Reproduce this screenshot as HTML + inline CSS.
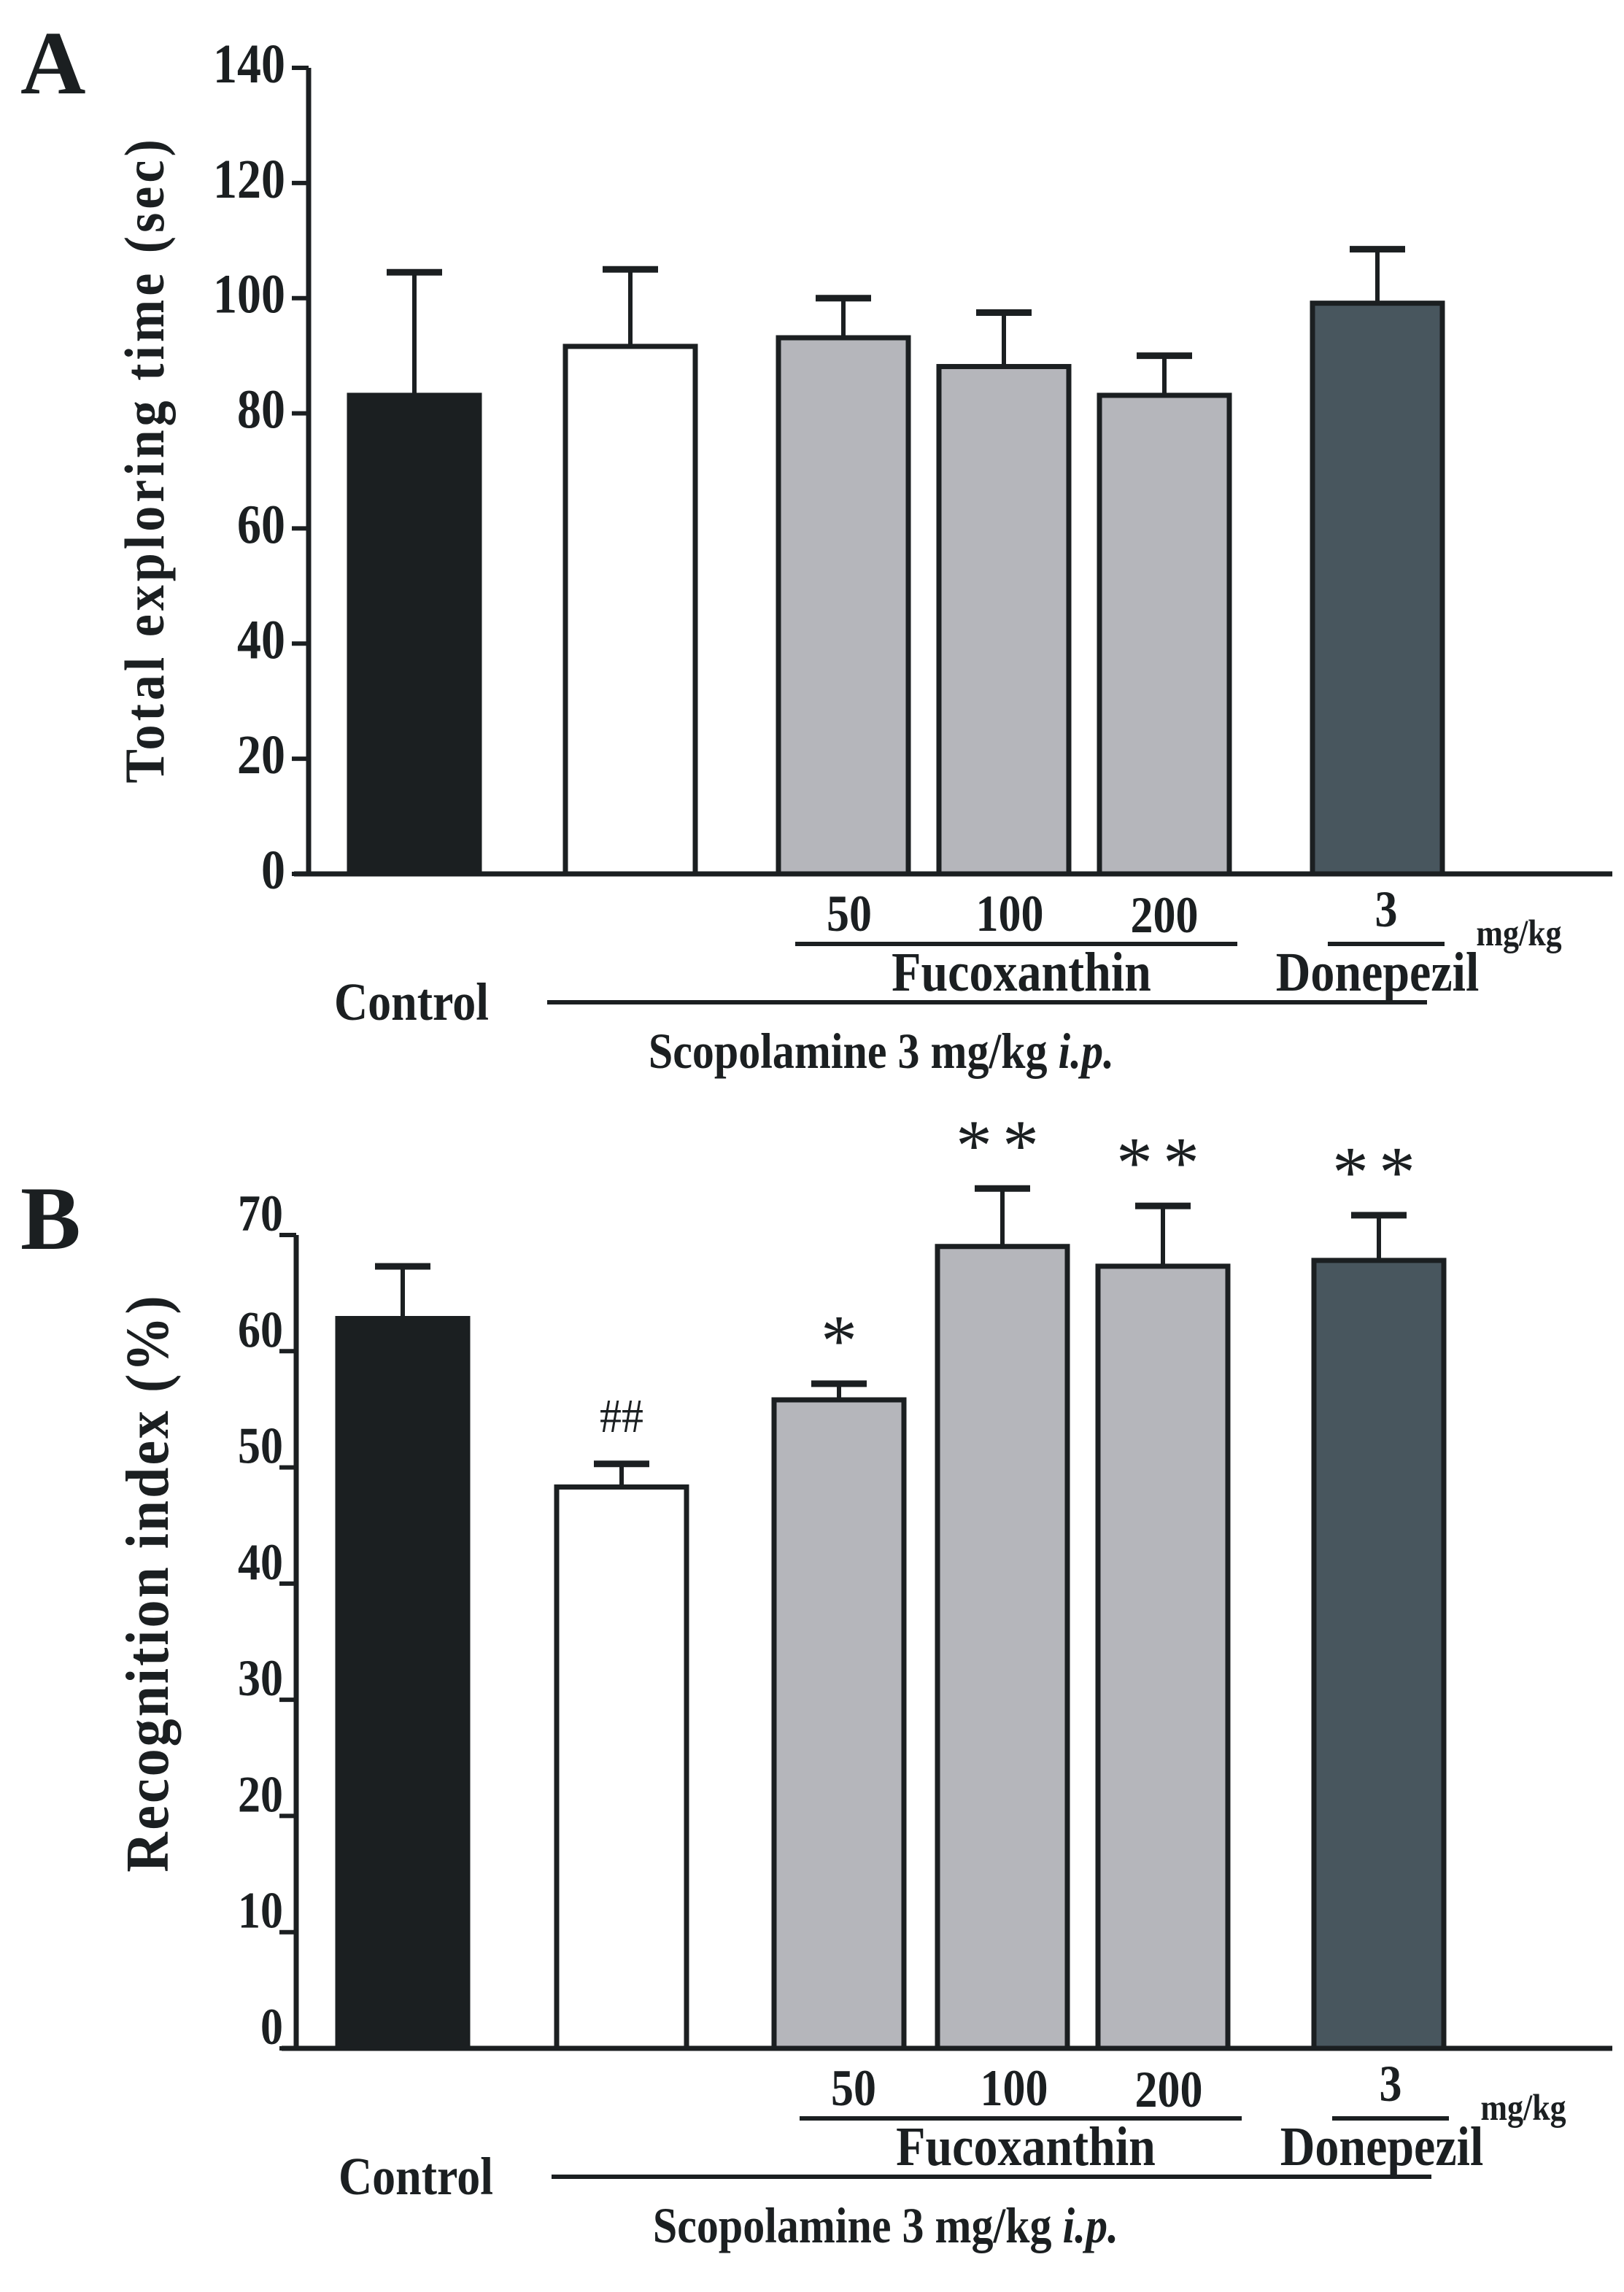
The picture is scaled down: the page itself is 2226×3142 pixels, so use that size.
<!DOCTYPE html>
<html><head><meta charset="utf-8"><style>
html,body{margin:0;padding:0;background:#fff;}
svg{display:block;}
text{font-family:"Liberation Serif",serif;font-weight:bold;fill:#1b1f21;}
</style></head><body>
<svg id="fig" width="2226" height="3142" viewBox="0 0 2226 3142"></svg>
<script>
const NS="http://www.w3.org/2000/svg";
const groups=["Control","Scopolamine","Fuco 50","Fuco 100","Fuco 200","Donepezil"];
const barColors=["#1b1f21","#ffffff","#b5b6bb","#b5b6bb","#b5b6bb","#48565e"];
const barLeftA=[476,772,1064,1284,1504,1796];
const barLeftB=[460,760,1058,1282,1502,1798];
const valuesA=[83.5,92,93.5,88.5,83.5,99.5];
const errA=[21,13,6.5,9,6.5,9];
const valuesB=[63,48.5,56,69.2,67.5,68];
const errB=[4.3,1.8,1.2,4.8,5,3.7];
const sigB=["","##","*","**","**","**"];
const ticksA=[0,20,40,60,80,100,120,140];
const ticksB=[0,10,20,30,40,50,60,70];
const svg=document.getElementById('fig');
function el(tag,attrs,parent,txt){const e=document.createElementNS(NS,tag);for(const k in attrs)e.setAttribute(k,attrs[k]);if(txt!==undefined)e.textContent=txt;(parent||svg).appendChild(e);return e;}
function txt(parent,x,y,s,size,anchor,sy,extra){
  const a={x:0,y:0,transform:`translate(${x},${y}) scale(1,${sy})`,'text-anchor':anchor,'font-size':size};
  if(extra)for(const k in extra)a[k]=extra[k];
  return el('text',a,parent,s);
}

function panel(cfg){
  const g=el('g',{});
  
  
  const y=v=>cfg.y0-(v-0)/cfg.vmax*(cfg.y0-cfg.yTop);
  cfg.values.forEach((v,i)=>{
    const x=cfg.left[i],w=184;
    const top=y(v+cfg.err[i]);
    const ln=el('line',{x1:x+w/2,x2:x+w/2,y1:top,y2:y(v),stroke:'#1b1f21','stroke-width':6},g);
    
    
    const cap=el('line',{x1:x+w/2-38,x2:x+w/2+38,y1:top,y2:top,stroke:'#1b1f21','stroke-width':9},g);
    
    
    const r=el('rect',{x:x+3,y:y(v)+3,width:w-6,height:cfg.y0-y(v)-3,fill:barColors[i],stroke:'#1b1f21','stroke-width':7},g);
    
    
    if(cfg.sig&&cfg.sig[i]){
      const isHash=cfg.sig[i]==='##';
      const t=txt(g,x+w/2,top-(isHash?44:26),cfg.sig[i],isHash?60:100,'middle',isHash?1.1:1,
        {style:'font-weight:normal;font-family:"Liberation Serif",serif','letter-spacing':cfg.sig[i]==='**'?14:0});
      
      
    }
  });
  const ya=el('line',{x1:cfg.ax,x2:cfg.ax,y1:cfg.yTop,y2:cfg.y0+3,stroke:'#1b1f21','stroke-width':7},g);
  
  
  const xa=el('line',{x1:cfg.ax-20,x2:2210,y1:cfg.y0,y2:cfg.y0,stroke:'#1b1f21','stroke-width':7},g);
  
  
  cfg.ticks.forEach(t=>{
    const tk=el('line',{x1:cfg.ax-23,x2:cfg.ax,y1:y(t),y2:y(t),stroke:'#1b1f21','stroke-width':6},g);
    
    
    const tl=txt(g,cfg.ax-cfg.lblOff,y(t)+cfg.lblDy,String(t),cfg.tickSize,'end',1.15);
    
    
  });
  const yt=el('text',{x:0,y:0,transform:`translate(${cfg.titleX},${cfg.titleY}) rotate(-90) scale(1,1.1)`,'text-anchor':'middle','font-size':cfg.titleSize,'letter-spacing':cfg.titleLS},g,cfg.title);
  
  
  const pl=txt(g,28,cfg.letterY,cfg.letter,124,'start',1);
  
  
  const o=cfg.y0; const dx=cfg.dx;
  const labs=[["50",1164+dx,o+78,62],["100",1384+dx,o+78,62],["200",1596+dx,o+80,62],["3",1900+dx,o+72,62],["mg/kg",2082+dx,o+98,44],
    ["Fucoxanthin",1400+dx,o+160,66],["Donepezil",1888+dx,o+160,66],["Control",564+dx,o+200,64]];
  labs.forEach(l=>{const t=txt(g,l[1],l[2],l[0],l[3],'middle',1.15);
    
    });
  const sc=el('text',{x:0,y:0,transform:`translate(${1208+dx},${o+266}) scale(1,1.15)`,'text-anchor':'middle','font-size':60},g);
  
  
  const s1=el('tspan',{},sc,'Scopolamine 3 mg/kg ');
  const s2=el('tspan',{'font-style':'italic'},sc,'i.p.');
  [[1090,1696,o+96],[1820,1980,o+96],[750,1956,o+176]].forEach(s=>{
    const l=el('line',{x1:s[0]+dx,x2:s[1]+dx,y1:s[2],y2:s[2],stroke:'#1b1f21','stroke-width':6},g);
    
    
  });
}
panel({name:'panel-a',values:valuesA,err:errA,left:barLeftA,y0:1198,yTop:93,vmax:140,ax:423,ticks:ticksA,lblOff:32,lblDy:20,tickSize:66,
  title:'Total  exploring  time (sec)',titleSize:70,titleX:224,titleY:630,titleLS:5,letter:'A',letterY:128,dx:0});
panel({name:'panel-b',values:valuesB,err:errB,sig:sigB,left:barLeftB,y0:2808,yTop:1693,vmax:70,ax:406,ticks:ticksB,lblOff:18,lblDy:-6,tickSize:62,
  title:'Recognition index (%)',titleSize:76,titleX:230,titleY:2170,titleLS:3,letter:'B',letterY:1712,dx:6});
</script>
</body></html>
